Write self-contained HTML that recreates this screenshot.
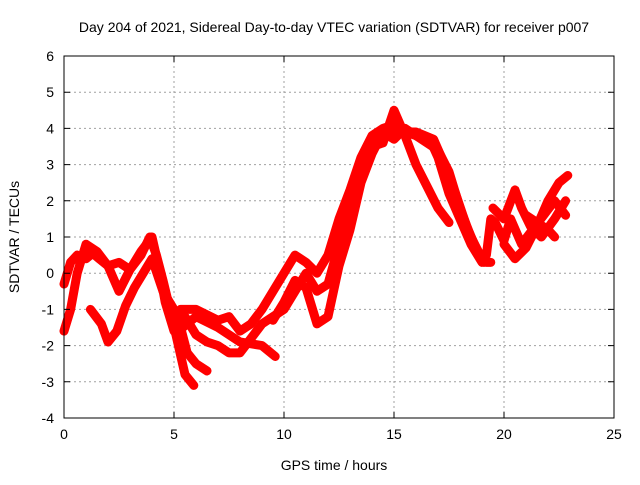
<!DOCTYPE html>
<html><head><meta charset="utf-8"><style>
body{margin:0;background:#fff}
svg text{font-family:"Liberation Sans",sans-serif;font-size:14px;fill:#000}
</style></head><body>
<svg id="chart" width="640" height="480" viewBox="0 0 640 480" xmlns="http://www.w3.org/2000/svg">
<rect width="640" height="480" fill="#fff"/>
<text x="334" y="32" text-anchor="middle">Day 204 of 2021, Sidereal Day-to-day VTEC variation (SDTVAR) for receiver p007</text>
<g id="grid"></g>
<g id="series"></g>
<rect x="64" y="56" width="550" height="362" fill="none" stroke="#000" stroke-width="1"/>
<g id="ticks"></g>
<text x="334" y="470" text-anchor="middle">GPS time / hours</text>
<text transform="translate(19,237) rotate(-90)" text-anchor="middle">SDTVAR / TECUs</text>
</svg>
<script>
const xTicks=[0,5,10,15,20,25];
const yTicks=[-4,-3,-2,-1,0,1,2,3,4,5,6];
const trackA=[[0,-0.3],[0.3,0.3],[0.6,0.5],[1,0.4],[1.3,0.55],[1.6,0.4],[2,0.2],[2.5,0.3],[3,0.1],[3.5,0.5],[3.9,1.0],[4.2,0.5],[4.5,-0.2],[4.9,-1.2],[5.2,-2.0],[5.5,-2.8],[5.9,-3.1]];
const trackB=[[0,-1.6],[0.3,-1.0],[0.6,0],[1,0.8],[1.5,0.6],[2,0.2],[2.5,-0.5],[3,0.1],[3.5,0.6],[4,1.0],[4.3,0.2],[4.6,-0.8],[5,-1.6],[5.3,-1.5],[5.6,-2.2],[6,-2.5],[6.5,-2.7]];
const trackC=[[1.2,-1.0],[1.7,-1.4],[2,-1.9],[2.4,-1.6],[2.8,-0.9],[3.2,-0.4],[3.6,0],[4,0.4],[4.5,-0.5],[5,-1.0],[5.4,-1.5],[6,-1.2],[7,-1.5],[8,-1.9],[9,-2.0],[9.6,-2.3]];
const trackD=[[4.9,-1.3],[5.3,-1.0],[6,-1.0],[7,-1.3],[7.5,-1.2],[8,-1.6],[8.5,-1.4],[9,-1.0],[9.5,-0.5],[10,0],[10.5,0.5],[11,0.3],[11.5,0],[12,0.5],[12.5,1.5],[13,2.3],[13.5,3.2],[14,3.8],[14.5,4.0],[15,4.1],[15.5,3.9],[16,3.8],[16.5,3.6],[17,3.4],[17.5,2.8],[18,1.8],[18.5,1.0],[19,0.4],[19.2,0.3],[19.4,0.3]];
const trackE=[[5.5,-1.2],[6,-1.7],[6.5,-1.9],[7,-2.0],[7.5,-2.2],[8,-2.2],[8.5,-1.8],[9,-1.4],[9.5,-1.2],[10,-1.0],[10.5,-0.5],[11,0],[11.5,-0.5],[12,-0.3],[12.5,0.8],[13,2.0],[13.5,3.0],[14,3.5],[14.5,3.6],[15,4.5],[15.5,3.8],[16,3.0],[16.5,2.4],[17,1.8],[17.5,1.4]];
const trackF=[[9.5,-1.3],[10,-0.8],[10.5,-0.2],[11,-0.4],[11.5,-1.4],[12,-1.2],[12.5,0.2],[13,1.2],[13.5,2.5],[14,3.3],[14.5,3.9],[15,3.7],[15.5,4.0],[16,3.8],[16.7,3.6],[17,3.2],[17.5,2.2],[18,1.5],[18.5,0.8],[19,0.3]];
const trackG=[[19.2,0.5],[19.4,1.5],[19.6,1.4],[20,0.9],[20.3,1.5],[20.8,0.8],[21.3,1.2],[21.8,1.6],[22.3,2.0],[22.8,1.6]];
const trackH=[[19.5,1.8],[20,1.5],[20.5,2.3],[20.8,1.8],[21.2,1.3],[21.7,1.0],[22.3,1.5],[22.8,2.0]];
const trackI=[[20,0.8],[20.5,0.4],[21,0.7],[21.5,1.3],[22,2.0],[22.5,2.5],[22.9,2.7]];
const trackJ=[[21,1.6],[21.5,1.4],[22,1.2],[22.3,1.0]];
const trackK=[[12.8,1.0],[13.2,2.0],[13.7,2.9],[14.2,3.6],[14.8,3.9],[15.3,3.9],[16,3.9],[16.8,3.7],[17.3,3.0],[17.8,2.2],[18.3,1.3],[18.8,0.6],[19.1,0.3]];
const tracks=[trackA,trackB,trackC,trackD,trackE,trackF,trackG,trackH,trackI,trackJ,trackK];

const X0=64,X1=614,Y0=418,Y1=56,xmin=0,xmax=25,ymin=-4,ymax=6;
function sx(t){return X0+(t-xmin)/(xmax-xmin)*(X1-X0);}
function sy(v){return Y0-(v-ymin)/(ymax-ymin)*(Y0-Y1);}
const NS="http://www.w3.org/2000/svg";
const grid=document.getElementById('grid'),ticks=document.getElementById('ticks'),ser=document.getElementById('series');
function mk(tag,attrs,parent){const e=document.createElementNS(NS,tag);for(const k in attrs)e.setAttribute(k,attrs[k]);parent.appendChild(e);return e;}
xTicks.forEach(t=>{
  const x=sx(t);
  if(t>xmin&&t<xmax){const g=mk('line',{x1:x,x2:x,y1:Y1,y2:Y0,stroke:'#a0a0a0','stroke-dasharray':'2,3'},grid);
  
  }
  const tk=mk('path',{d:`M${x},${Y0}v-6M${x},${Y1}v6`,stroke:'#000'},ticks);
  
  
  const l=mk('text',{x:x,y:Y0+21,'text-anchor':'middle'},ticks);l.textContent=t;
  
  
});
yTicks.forEach(v=>{
  const y=sy(v);
  if(v>ymin&&v<ymax){const g=mk('line',{x1:X0,x2:X1,y1:y,y2:y,stroke:'#a0a0a0','stroke-dasharray':'2,3'},grid);
  
  }
  const tk=mk('path',{d:`M${X0},${y}h6M${X1},${y}h-6`,stroke:'#000'},ticks);
  
  
  const l=mk('text',{x:X0-10,y:y+5,'text-anchor':'end'},ticks);l.textContent=v;
  
  
});
tracks.forEach((tr,i)=>{
  const p=mk('polyline',{points:tr.map(d=>sx(d[0])+','+sy(d[1])).join(' '),fill:'none',stroke:'#ff0000','stroke-width':9,'stroke-linejoin':'round','stroke-linecap':'round'},ser);
  
  
  tr.forEach(d=>{
    const m=mk('path',{d:`M${sx(d[0])-4},${sy(d[1])}h8M${sx(d[0])},${sy(d[1])-4}v8`,stroke:'#ff0000','stroke-width':1.2},ser);
    
    
  });
});
</script>
</body></html>
